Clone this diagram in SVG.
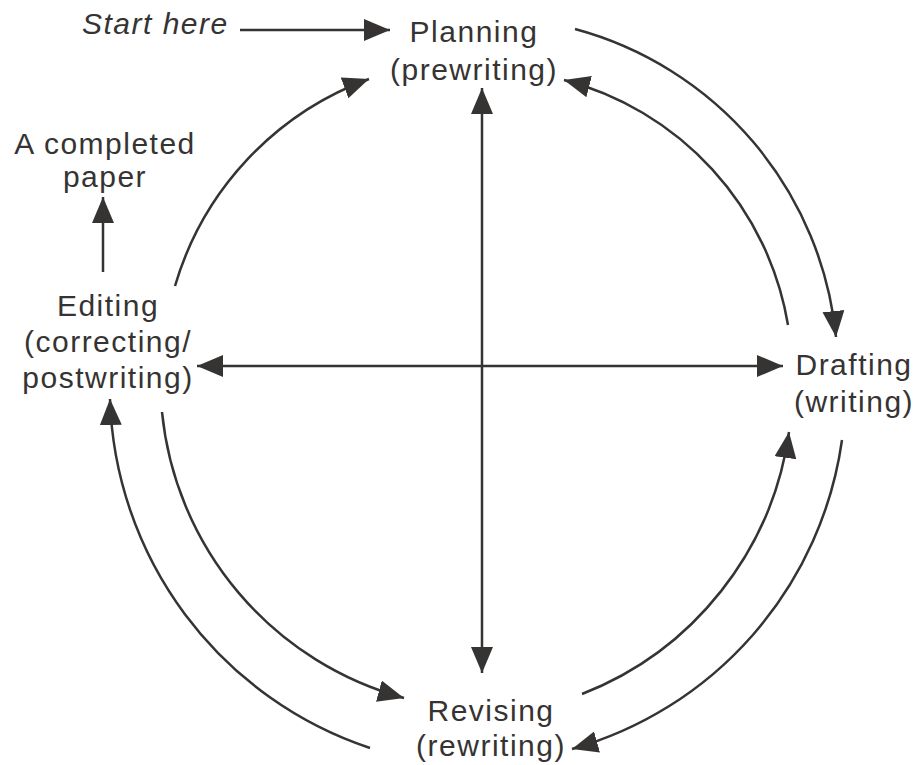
<svg xmlns="http://www.w3.org/2000/svg" width="915" height="765" viewBox="0 0 915 765">
<defs>
<style>
text{font-family:"Liberation Sans",Arial,Helvetica,sans-serif;font-size:30px;fill:#363333;letter-spacing:1.5px;text-anchor:middle}
.it{font-style:italic;text-anchor:start}
.c{fill:none;stroke:#363333;stroke-width:2.5}
</style>
<marker id="ah" markerUnits="userSpaceOnUse" markerWidth="28" markerHeight="24" refX="26" refY="11" orient="auto">
<path d="M0,0 L26,11 L0,22 Z" fill="#363333"/>
</marker>
</defs>
<rect width="915" height="765" fill="#fff"/>
<g id="connectors">
<path class="c" d="M240,30 L390,30" marker-end="url(#ah)"/>
<path class="c" d="M482,366 L482,88" marker-end="url(#ah)"/>
<path class="c" d="M482,366 L482,673" marker-end="url(#ah)"/>
<path class="c" d="M482,366 L197,366" marker-end="url(#ah)"/>
<path class="c" d="M482,366 L783,366" marker-end="url(#ah)"/>
<path class="c" d="M103,272 L103,197" marker-end="url(#ah)"/>
<path class="c" d="M175,286 A315,315 0 0 1 369,79" marker-end="url(#ah)"/>
<path class="c" d="M575,29 A355,355 0 0 1 836,337" marker-end="url(#ah)"/>
<path class="c" d="M788,325 A305,305 0 0 0 564,80" marker-end="url(#ah)"/>
<path class="c" d="M582,694 A330,330 0 0 0 789,432" marker-end="url(#ah)"/>
<path class="c" d="M842,440 A375,375 0 0 1 572,749" marker-end="url(#ah)"/>
<path class="c" d="M162,412 A330,330 0 0 0 404,698" marker-end="url(#ah)"/>
<path class="c" d="M370,748 A380,380 0 0 1 110,399" marker-end="url(#ah)"/>
</g>
<g id="start">
<text class="it" x="82" y="34">Start here</text>
</g>
<g id="planning">
<text x="474" y="42">Planning</text>
<text x="474" y="80">(prewriting)</text>
</g>
<g id="completed">
<text x="105" y="154">A completed</text>
<text x="105" y="187">paper</text>
</g>
<g id="editing">
<text x="108" y="316">Editing</text>
<text x="108" y="352">(correcting/</text>
<text x="108" y="388">postwriting)</text>
</g>
<g id="drafting">
<text x="854" y="375">Drafting</text>
<text x="854" y="412">(writing)</text>
</g>
<g id="revising">
<text x="491" y="721">Revising</text>
<text x="491" y="756">(rewriting)</text>
</g>
</svg>
